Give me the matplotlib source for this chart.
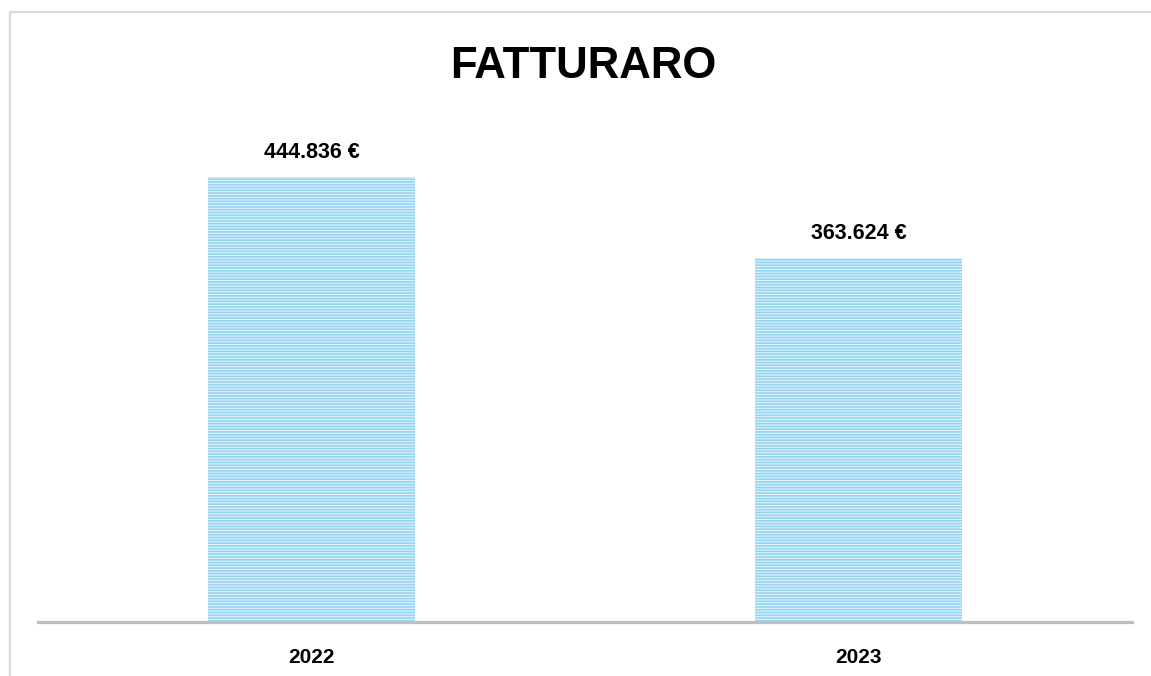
import matplotlib
matplotlib.use('Agg')
import matplotlib.pyplot as plt
from matplotlib.patches import Rectangle

# data
years = ['2022', '2023']
fatturato = [444836, 363624]
labels = ['444.836 €', '363.624 €']

plt.rcParams['font.family'] = ['Liberation Sans', 'DejaVu Sans']
plt.rcParams['hatch.linewidth'] = 1.2
plt.rcParams['hatch.color'] = '#96d4f2'

W, H = 1151, 676
fig = plt.figure(figsize=(W / 100, H / 100), dpi=100)

# outer chart frame
fig.patches.append(Rectangle((9.5 / W, -0.05), 1.2, 1.05 - 11.5 / H,
                             transform=fig.transFigure, fill=False,
                             edgecolor='#d9d9d9', linewidth=1.6))

ax = fig.add_axes([38 / W, 1 - 622 / H, (1132 - 38) / W, (622 - 120) / H])
x = range(len(years))
bars = ax.bar(x, fatturato, width=0.38, color='#e0f3fc', edgecolor='#96d4f2',
              linewidth=0, hatch='------')
ax.set_xlim(-0.5, 1.5)
ax.set_ylim(0, 502000)

for b, lab in zip(bars, labels):
    ax.annotate(lab, (b.get_x() + b.get_width() / 2, b.get_height()),
                xytext=(0, 18), textcoords='offset points', ha='center',
                va='center', fontsize=15.5, fontweight='bold', color='#000000')

for s in ['top', 'right', 'left']:
    ax.spines[s].set_visible(False)
ax.spines['bottom'].set_color('#bfbfbf')
ax.spines['bottom'].set_linewidth(2.3)
ax.set_yticks([])
ax.set_xticks(list(x))
ax.set_xticklabels(years, fontsize=15, fontweight='bold')
ax.tick_params(axis='x', length=0, pad=18.5)

fig.text(583 / W, 1 - 66 / H, 'FATTURARO', ha='center', va='center',
         fontsize=31.5, fontweight='bold')

fig.savefig('out.png', dpi=100)
